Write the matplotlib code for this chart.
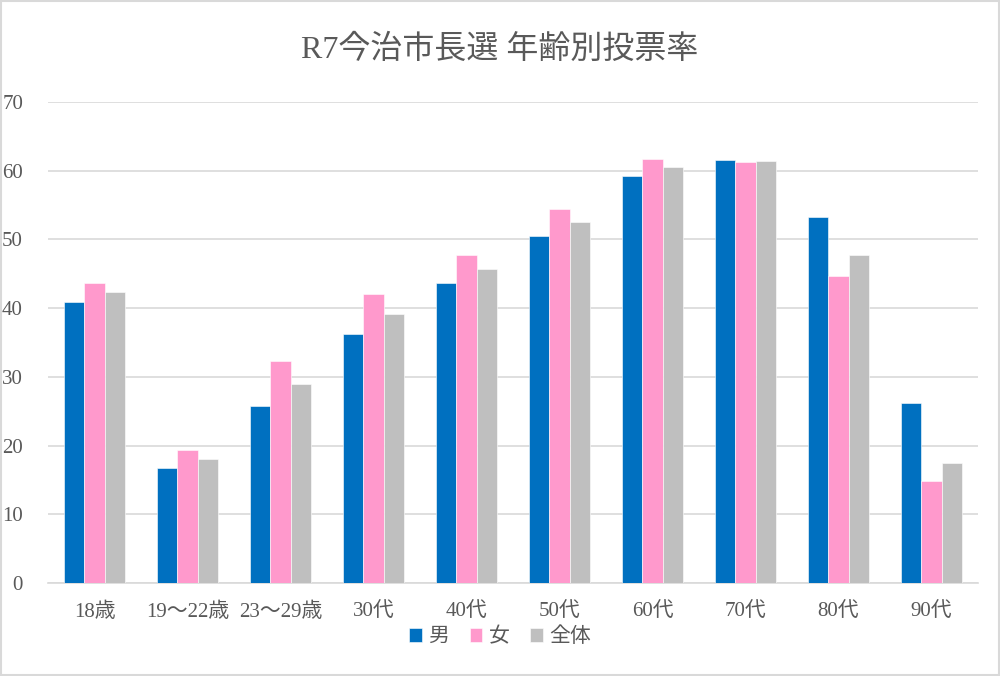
import numpy as np
import matplotlib
matplotlib.use("Agg")
from matplotlib import pyplot as plt
from matplotlib.patches import Rectangle

plt.rcParams['font.family'] = ['Liberation Serif', 'Noto Sans CJK JP', 'DejaVu Sans']

categories = ['18歳', '19～22歳', '23～29歳', '30代', '40代', '50代', '60代', '70代', '80代', '90代']
male = [40.9, 16.8, 25.8, 36.3, 43.7, 50.5, 59.2, 61.6, 53.3, 26.2]
female = [43.7, 19.4, 32.3, 42.0, 47.7, 54.5, 61.7, 61.2, 44.7, 14.9]
total = [42.3, 18.1, 28.9, 39.1, 45.7, 52.5, 60.5, 61.4, 47.8, 17.4]
series_names = ['男', '女', '全体']
colors = ['#0070C0', '#FF99CC', '#BFBFBF']
text_color = '#595959'

fig = plt.figure(figsize=(10, 6.76), dpi=100)
ax = fig.add_axes([0.048, 0.1376, 0.930, 0.7115])

x = np.arange(len(categories))
w = 0.222
for i, (vals, name, c) in enumerate(zip([male, female, total], series_names, colors)):
    ax.bar(x + (i - 1) * w, vals, width=w, color=c, label=name,
           edgecolor='white', linewidth=0.4, zorder=3)

ax.set_xlim(-0.5, len(categories) - 0.5)
ax.set_ylim(0, 70)
ax.set_yticks(range(0, 71, 10))
ax.set_xticks(x)
ax.set_xticklabels(categories)
ax.grid(axis='y', color='#d9d9d9', linewidth=1.2, zorder=0)
for s in ['top', 'right', 'left']:
    ax.spines[s].set_visible(False)
ax.spines['bottom'].set_color('#d9d9d9')
ax.spines['bottom'].set_linewidth(1.2)
ax.tick_params(axis='both', length=0, labelsize=15, colors=text_color)
ax.tick_params(axis='y', pad=18)
ax.tick_params(axis='x', pad=14)

fig.text(0.5, 0.927, 'R7今治市長選 年齢別投票率', ha='center', va='center',
         fontsize=23, color=text_color)

leg = fig.legend(loc='center', bbox_to_anchor=(0.5, 0.057), ncol=3, frameon=False,
                 fontsize=15, handlelength=0.6, handleheight=0.6,
                 handletextpad=0.3, columnspacing=1.0)
for t in leg.get_texts():
    t.set_color(text_color)

fig.patches.append(Rectangle((0.001, 0.001), 0.998, 0.998, transform=fig.transFigure,
                             fill=False, edgecolor='#d9d9d9', linewidth=1.5))

fig.savefig('out.png', dpi=100)
